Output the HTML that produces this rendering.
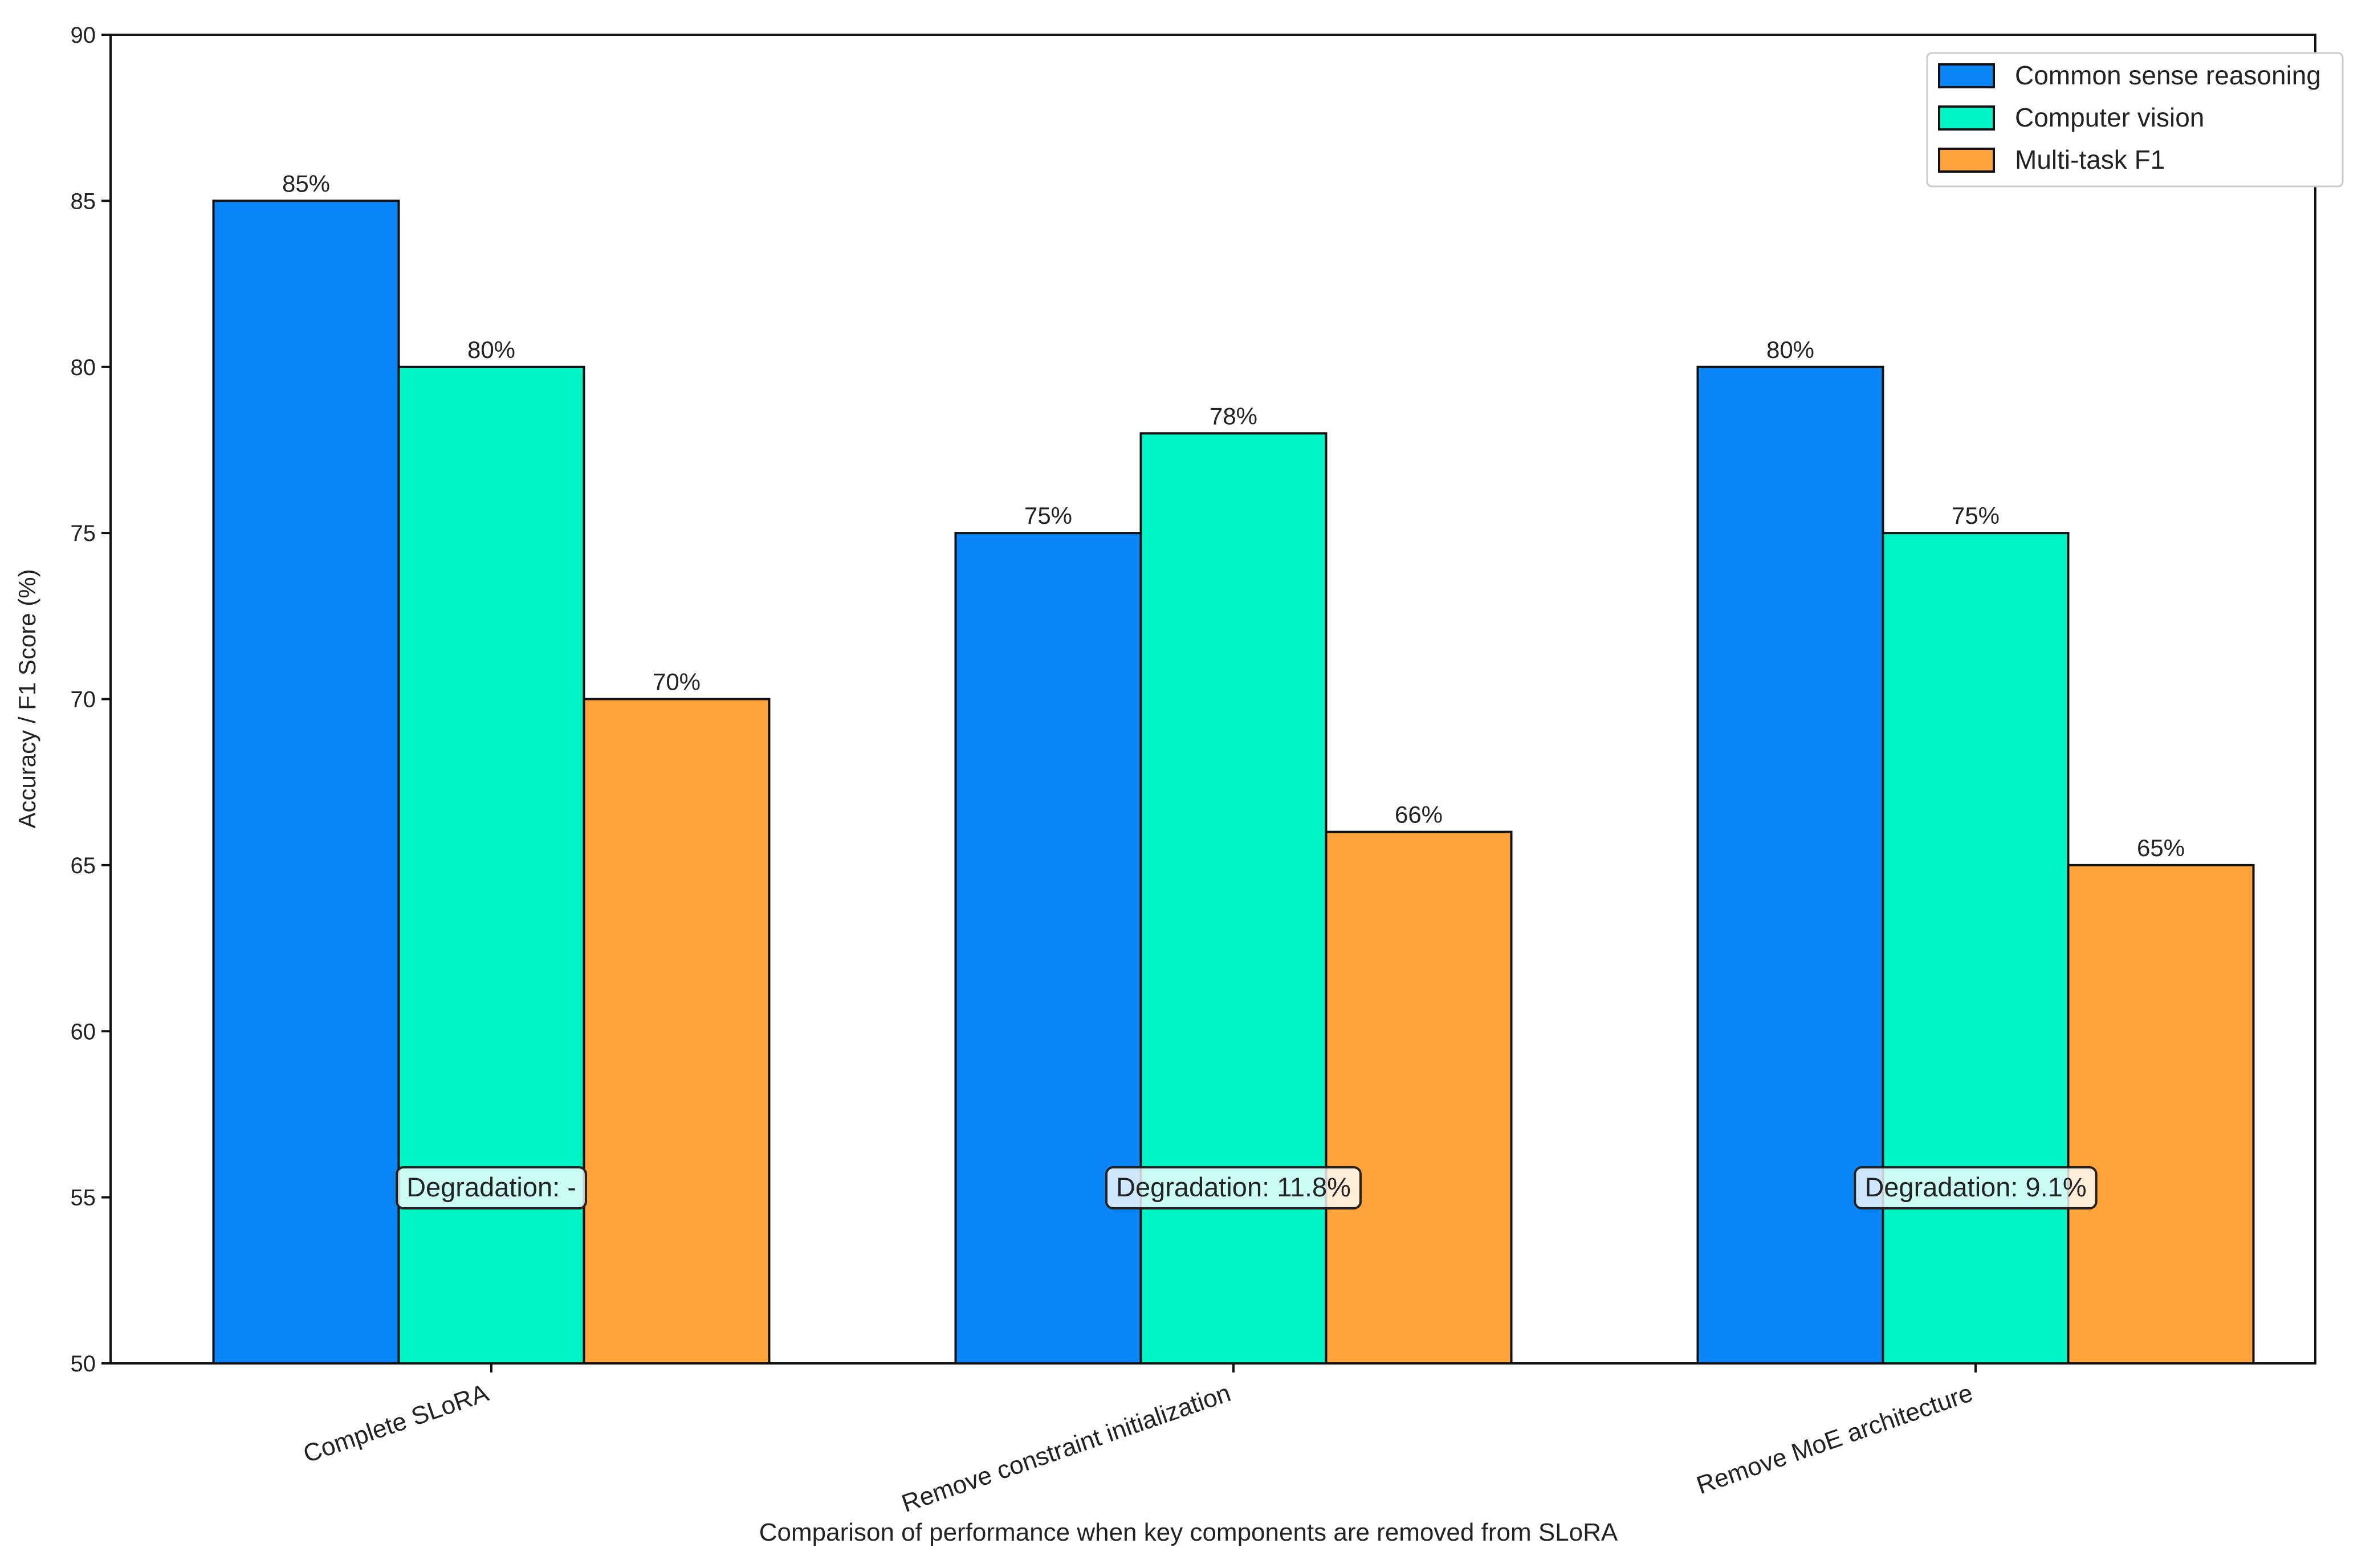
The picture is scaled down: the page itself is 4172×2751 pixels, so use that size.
<!DOCTYPE html>
<html><head><meta charset="utf-8"><style>
html,body{margin:0;padding:0;background:#fff;}
svg{display:block;}
text{font-family:"Liberation Sans Narrow","Liberation Sans",sans-serif;fill:#222;}
</style></head><body>
<svg id="chart" width="4172" height="2751" viewBox="0 0 4172 2751" xmlns="http://www.w3.org/2000/svg">
<rect width="4172" height="2751" fill="#fff"/>
<g id="bars"></g>
<g id="annots"></g>
<rect x="194" y="61" width="3868" height="2331" fill="none" stroke="#111" stroke-width="4"/>
<g id="yaxis"></g>
<g id="xaxis"></g>
<text x="0" y="0" font-size="42" text-anchor="middle" transform="translate(62,1226) rotate(-90)">Accuracy / F1 Score (%)</text>
<text x="2085" y="2703" font-size="44" text-anchor="middle">Comparison of performance when key components are removed from SLoRA</text>
<g>
<rect x="3381" y="93" width="729" height="234" rx="8" fill="#fff" stroke="#ccc" stroke-width="3"/>
<g id="legend-items"></g>
</g>
</svg>
<script>
const categories = ["Complete SLoRA", "Remove constraint initialization", "Remove MoE architecture"];
const seriesNames = ["Common sense reasoning", "Computer vision", "Multi-task F1"];
const commonSense = [85, 75, 80];
const computerVision = [80, 78, 75];
const multiTaskF1 = [70, 66, 65];
const degradation = ["Degradation: -", "Degradation: 11.8%", "Degradation: 9.1%"];
const yTicks = [50, 55, 60, 65, 70, 75, 80, 85, 90];

const NS = "http://www.w3.org/2000/svg";
const colors = ["#0a86f8", "#00f5c6", "#ffa33a"];
const series = [commonSense, computerVision, multiTaskF1];
const plotL = 194, plotR = 4062, plotT = 61, plotB = 2392;
const yMin = 50, yMax = 90;
function y(v){ return plotB - (v - yMin) / (yMax - yMin) * (plotB - plotT); }
const groupStart = 862, groupStep = 1302, barW = 325;
function x(i){ return groupStart + i * groupStep; }
function mk(tag, attrs, parent){ const e = document.createElementNS(NS, tag); for (const k in attrs) e.setAttribute(k, attrs[k]); parent.appendChild(e); return e; }

const bars = document.getElementById("bars");
const annots = document.getElementById("annots");
series.forEach((vals, s) => {
  vals.forEach((v, i) => {
    const bx = x(i) + (s - 1) * barW - barW / 2;
    const r = mk("rect", {x: bx, y: y(v), width: barW, height: plotB - y(v), fill: colors[s], stroke: "#111", "stroke-width": 4}, bars);
    
    
    const t = mk("text", {x: bx + barW / 2, y: y(v) - 16, "font-size": 42, "text-anchor": "middle"}, annots);
    t.textContent = v + "%";
    
    
  });
});
degradation.forEach((d, i) => {
  const g = mk("g", {}, annots);
  
  
  const t = mk("text", {x: x(i), y: 2099, "font-size": 47, "text-anchor": "middle"}, g);
  t.textContent = d;
  const w = t.getComputedTextLength() + 34;
  const b = mk("rect", {x: x(i) - w / 2, y: 2048, width: w, height: 72, rx: 12, fill: "rgba(255,255,255,0.8)", stroke: "#222", "stroke-width": 4}, g);
  g.insertBefore(b, t);
});
const ya = document.getElementById("yaxis");
yTicks.forEach(v => {
  const l = mk("line", {x1: plotL - 16, x2: plotL, y1: y(v), y2: y(v), stroke: "#111", "stroke-width": 4}, ya);
  
  
  const t = mk("text", {x: plotL - 26, y: y(v) + 14, "font-size": 40, "text-anchor": "end"}, ya);
  t.textContent = v;
  
  
});
const xa = document.getElementById("xaxis");
categories.forEach((c, i) => {
  const l = mk("line", {x1: x(i), x2: x(i), y1: plotB, y2: plotB + 16, stroke: "#111", "stroke-width": 4}, xa);
  
  
  const t = mk("text", {x: 0, y: 0, "font-size": 44, "text-anchor": "end", transform: "translate(" + (x(i) - 2) + "," + (plotB + 64) + ") rotate(-19)"}, xa);
  t.textContent = c;
  
  
});
const lg = document.getElementById("legend-items");
seriesNames.forEach((n, s) => {
  const cy = 133 + s * 74;
  const r = mk("rect", {x: 3402, y: cy - 20, width: 96, height: 40, fill: colors[s], stroke: "#111", "stroke-width": 4}, lg);
  
  
  const t = mk("text", {x: 3535, y: cy + 15, "font-size": 46}, lg);
  t.textContent = n;
  
  
});
</script>
</body></html>
